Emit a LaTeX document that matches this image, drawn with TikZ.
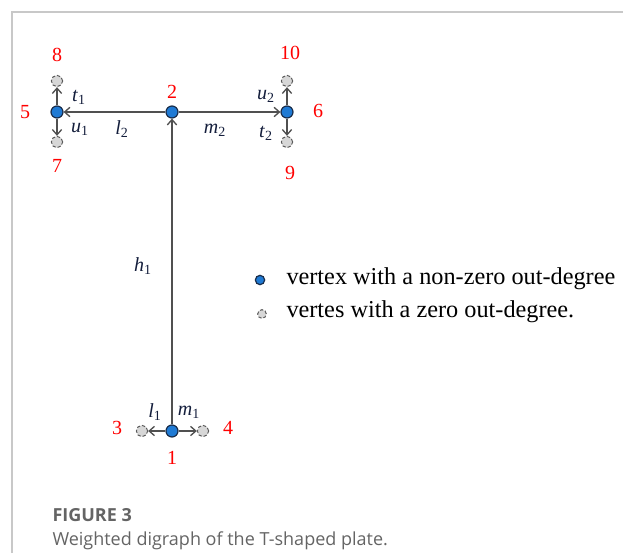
\documentclass[tikz,border=0pt]{standalone}
\usepackage{fontspec}
\setmainfont{Liberation Serif}
\newfontfamily\capfont{Open Sans}
\usetikzlibrary{arrows.meta}

\newcommand{\wlab}[2]{\textit{#1}\textsubscript{#2}}

\tikzset{every picture/.style={line width=0.75pt}}
\tikzset{
  busy/.style={circle, draw={rgb,255:red,25;green,45;blue,75}, fill={rgb,255:red,31;green,122;blue,212}, line width=0.9pt, inner sep=0pt, minimum size=9pt},
  idle/.style={circle, draw={rgb,255:red,90;green,90;blue,90}, fill={rgb,255:red,215;green,215;blue,215}, dash pattern=on 2.5pt off 1.5pt, inner sep=0pt, minimum size=8.5pt},
  arcline/.style={draw={rgb,255:red,80;green,80;blue,80}, line width=1pt, -{Straight Barb[length=4pt,width=7pt]}},
  num/.style={text=red, font=\fontsize{15}{15}\selectfont, inner sep=0.75pt},
  wt/.style={inner sep=0.75pt, text={rgb,255:red,20;green,30;blue,60}, font=\fontsize{15}{15}\selectfont},
  legendtext/.style={anchor=west, inner sep=0.75pt, font=\fontsize{18.2}{19}\selectfont},
  captext/.style={anchor=west, inner sep=0pt, text={rgb,255:red,100;green,100;blue,100}}
}

\begin{document}
\begin{tikzpicture}[x=0.75pt,y=0.75pt,yscale=-1,xscale=1]
\path[use as bounding box] (0,0) rectangle (623,555);

%Frame lines
\draw [color={rgb, 255:red, 200; green, 200; blue, 200 }, line width=1.2pt] (12,553) -- (12,12) -- (623,12) ;

%Vertices with a non-zero out-degree
\node [busy] (v1) at (172,431) {};
\node [busy] (v2) at (172,112) {};
\node [busy] (v5) at (57,112) {};
\node [busy] (v6) at (287,112) {};
%Vertices with a zero out-degree
\node [idle] (v3) at (142,431) {};
\node [idle] (v4) at (203,431) {};
\node [idle] (v7) at (57,142) {};
\node [idle] (v8) at (57,81) {};
\node [idle] (v9) at (287,142) {};
\node [idle] (v10) at (287,81) {};

%Arcs
\draw [arcline] (v1) -- (v2) ;
\draw [arcline] (v2) -- (v5) ;
\draw [arcline] (v2) -- (v6) ;
\draw [arcline] (v1) -- (v3) ;
\draw [arcline] (v1) -- (v4) ;
\draw [arcline] (v5) -- (v8) ;
\draw [arcline] (v5) -- (v7) ;
\draw [arcline] (v6) -- (v10) ;
\draw [arcline] (v6) -- (v9) ;

% Text Node
\node [num] (n1) at (172,458) {1};
\node [num] (n2) at (172,92) {2};
\node [num] (n3) at (117,428) {3};
\node [num] (n4) at (228,428) {4};
\node [num] (n5) at (25,112) {5};
\node [num] (n6) at (318,111) {6};
\node [num] (n7) at (57,166) {7};
\node [num] (n8) at (57,55) {8};
\node [num] (n9) at (290,173) {9};
\node [num] (n10) at (290,53) {10};

% Text Node
\node [wt] (wt1) at (79,97) {\wlab{t}{1}};
\node [wt] (wu1) at (80,129) {\wlab{u}{1}};
\node [wt] (wl2) at (122,129) {\wlab{l}{2}};
\node [wt] (wm2) at (215,130) {\wlab{m}{2}};
\node [wt] (wu2) at (266,96) {\wlab{u}{2}};
\node [wt] (wt2) at (266,133) {\wlab{t}{2}};
\node [wt] (wh1) at (143,266) {\wlab{h}{1}};
\node [wt] (wl1) at (155,412) {\wlab{l}{1}};
\node [wt] (wm1) at (189,412) {\wlab{m}{1}};

%Legend
\node [busy, minimum size=7pt] (kb) at (260,280) {};
\node [idle, minimum size=6.5pt] (ki) at (262,314) {};
\node [legendtext] (tb) at (285,279) {vertex with a non-zero out-degree};
\node [legendtext] (ti) at (285,312) {vertes with a zero out-degree.};

%Caption
\node [captext, font=\capfont\fontsize{13.5}{14}\selectfont\bfseries] (c1) at (52,515) {FIGURE 3};
\node [captext, font=\capfont\fontsize{13.5}{14}\selectfont] (c2) at (52,541) {Weighted digraph of the T-shaped plate.};

\end{tikzpicture}
\end{document}
